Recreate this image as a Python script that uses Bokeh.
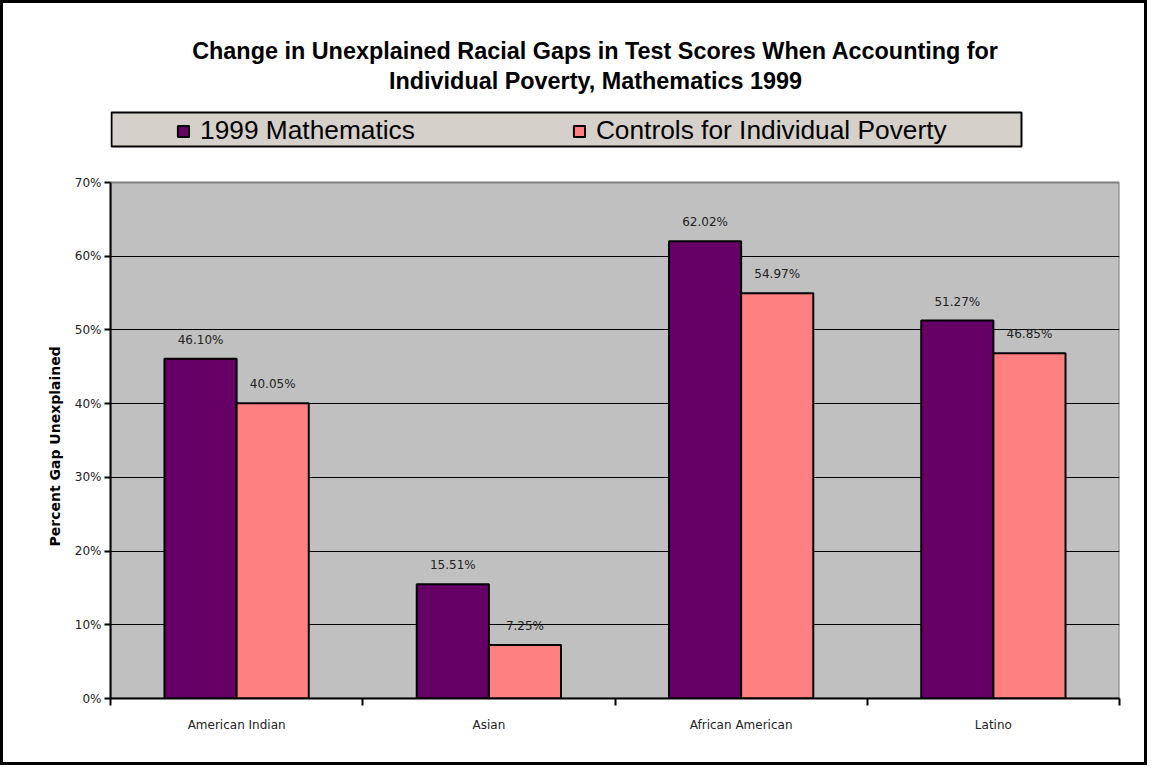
from bokeh.plotting import figure
from bokeh.models import (ColumnDataSource, Range1d, FixedTicker, NumeralTickFormatter,
                          Legend, LegendItem, Label, BoxAnnotation, Title)
from bokeh.transform import dodge
from bokeh.core.properties import value
from bokeh.embed import file_html
from bokeh.resources import INLINE

# ---- data ----
categories = ["American Indian", "Asian", "African American", "Latino"]
math_1999 = [0.4610, 0.1551, 0.6202, 0.5127]
controls_poverty = [0.4005, 0.0725, 0.5497, 0.4685]
series_names = ["1999 Mathematics", "Controls for Individual Poverty"]
y_ticks = [0.0, 0.1, 0.2, 0.3, 0.4, 0.5, 0.6, 0.7]
title_lines = ["Change in Unexplained Racial Gaps in Test Scores When Accounting for",
               "Individual Poverty, Mathematics 1999"]
y_label = "Percent Gap Unexplained"

# ---- layout (page pixels) ----
BORDER = 3
W, H = 1153 - 2 * BORDER, 771 - 2 * BORDER
PL, PR, PT, PB = 110, 1119, 182, 698          # plot-area edges on the page
FT_PAGE = BORDER                              # frame reaches the top of the canvas
y_max = y_ticks[-1]
y_top = y_max * (PB - FT_PAGE) / (PB - PT)    # data value at the top of the frame

n = len(categories)
centers = [i + 0.5 for i in range(n)]          # category slot centres
bounds = [float(i) for i in range(n + 1)]      # category slot boundaries

src = ColumnDataSource(dict(
    xc=centers,
    math=math_1999,
    ctrl=controls_poverty,
    math_lbl=["%.2f%%" % (v * 100) for v in math_1999],
    ctrl_lbl=["%.2f%%" % (v * 100) for v in controls_poverty],
))

p = figure(width=W, height=H, x_range=Range1d(0, n), y_range=Range1d(0, y_top),
           output_backend="svg", toolbar_location=None,
           min_border_left=PL - BORDER, min_border_right=W - (PR - BORDER),
           min_border_top=FT_PAGE - BORDER, min_border_bottom=H - (PB - BORDER))
p.styles = {"border": "%dpx solid black" % BORDER}
p.background_fill_color = "white"
p.border_fill_color = "white"
p.outline_line_color = None

# plot area background (grey) with its grey border
p.quad(left=[0], right=[n], bottom=[0], top=[y_max], fill_color="#C0C0C0",
       line_color="#808080", line_width=2, level="image")

# y axis
ya = p.yaxis[0]
ya.bounds = (0, y_max)
ya.ticker = FixedTicker(ticks=y_ticks)
ya.formatter = NumeralTickFormatter(format="0%")
ya.axis_line_color = "black"
ya.axis_line_width = 2
ya.major_tick_line_color = "black"
ya.major_tick_line_width = 2
ya.major_tick_out = 6
ya.major_tick_in = 0
ya.minor_tick_line_color = None
ya.major_label_text_font = "DejaVu Sans"
ya.major_label_text_font_size = "12px"
ya.major_label_text_color = "#222222"
ya.major_label_standoff = 3

# y axis title, centred on the plot area (not on the taller frame)
label_len = 200
p.add_layout(Title(text=y_label, align="left",
                   offset=(PB - PT) / 2 - label_len / 2 - 6, standoff=17,
                   text_font="DejaVu Sans", text_font_style="bold",
                   text_font_size="14px", text_color="black"), "left")

p.ygrid.ticker = FixedTicker(ticks=y_ticks[1:-1])
p.ygrid.grid_line_color = "black"
p.ygrid.grid_line_width = 1
p.xgrid.visible = False

# x axis: labels at slot centres, boundary ticks as minor ticks
xa = p.xaxis[0]
xa.ticker = FixedTicker(ticks=centers, minor_ticks=bounds)
xa.major_label_overrides = {c: name for c, name in zip(centers, categories)}
xa.axis_line_color = "black"
xa.axis_line_width = 2
xa.major_tick_line_color = None
xa.major_tick_out = 0
xa.major_tick_in = 0
xa.minor_tick_line_color = "black"
xa.minor_tick_line_width = 2
xa.minor_tick_out = 7
xa.minor_tick_in = 0
xa.major_label_standoff = 12
xa.major_label_text_font = "DejaVu Sans"
xa.major_label_text_font_size = "12px"
xa.major_label_text_color = "#222222"

# bars
bw = 0.286
r1 = p.vbar(x=dodge("xc", -bw / 2), top="math", width=bw, source=src,
            fill_color="#660066", line_color="black", line_width=2)
r2 = p.vbar(x=dodge("xc", bw / 2), top="ctrl", width=bw, source=src,
            fill_color="#FF8080", line_color="black", line_width=2)

# data labels
for col, lbl, off in (("math", "math_lbl", -bw / 2), ("ctrl", "ctrl_lbl", bw / 2)):
    p.text(x=dodge("xc", off), y=col, text=lbl, source=src,
           text_align="center", text_baseline="middle", y_offset=-19,
           text_font=value("DejaVu Sans"), text_font_size="12px", text_color="#222222")

# title (screen units: x from frame left, y up from frame bottom)
for txt, ypage in zip(title_lines, (50, 80)):
    p.add_layout(Label(x=595 - PL, y=PB - ypage, x_units="screen", y_units="screen",
                       text=txt, text_align="center", text_baseline="middle",
                       text_font="Liberation Sans", text_font_style="bold",
                       text_font_size="23.4px", text_color="black"))

# legend box + legend entries
p.add_layout(BoxAnnotation(left=1, right=1021 - PL, bottom=PB - 146, top=PB - 112,
                           left_units="screen", right_units="screen",
                           top_units="screen", bottom_units="screen",
                           fill_color="#D6D0CA", fill_alpha=1,
                           line_color="black", line_alpha=1, line_width=2))
legend = Legend(items=[LegendItem(label=series_names[0], renderers=[r1]),
                       LegendItem(label=series_names[1], renderers=[r2])],
                orientation="horizontal", location=(176 - PL, PB - 146),
                background_fill_alpha=0, border_line_color=None,
                padding=2, margin=0, glyph_width=14, glyph_height=14,
                label_standoff=10, label_height=30, spacing=157,
                label_text_font="Liberation Sans", label_text_font_size="26.3px",
                label_text_color="black")
p.add_layout(legend, "center")

open("out.html", "w").write(file_html(p, INLINE))
